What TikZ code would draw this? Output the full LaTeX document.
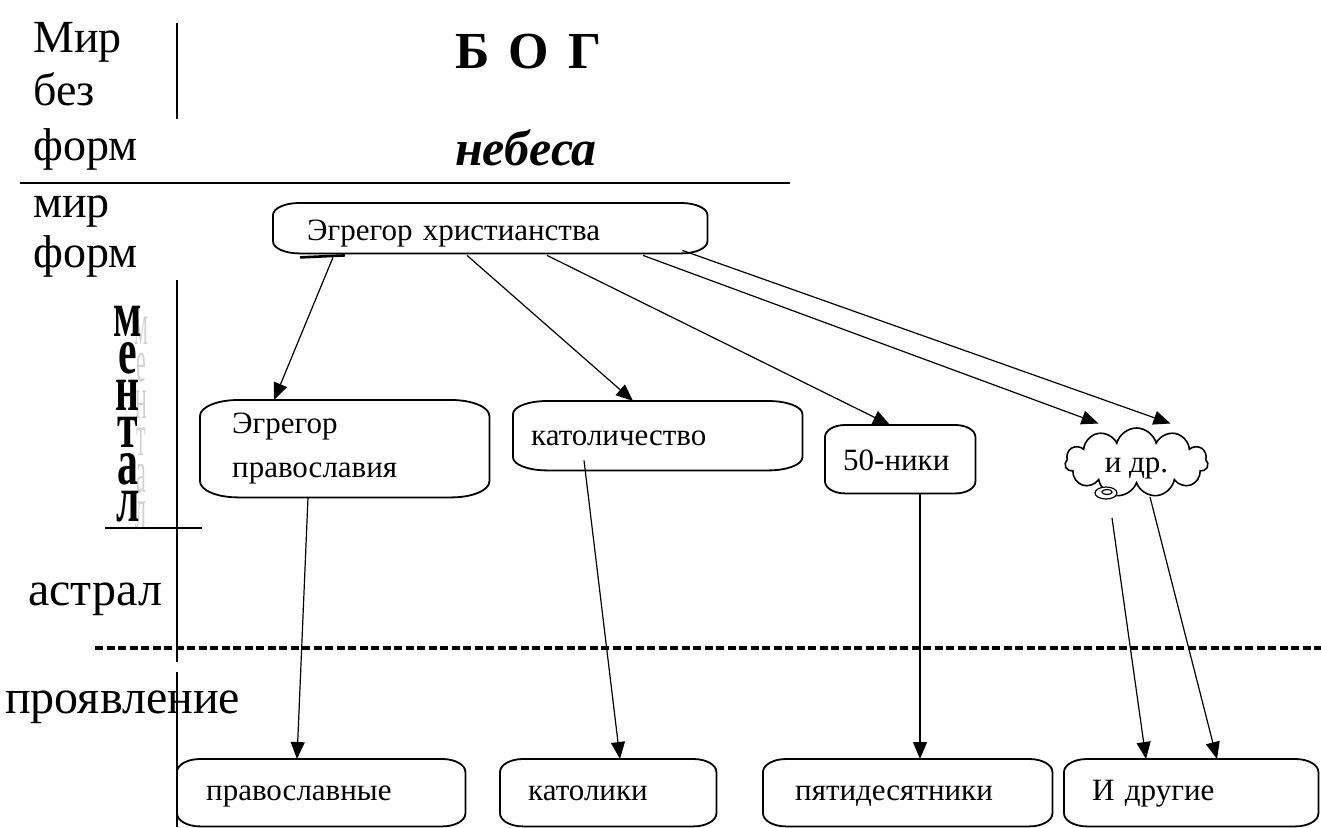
\documentclass[tikz,border=0pt]{standalone}
\usepackage{fontspec}
\setmainfont{Liberation Serif}
\usetikzlibrary{calc,arrows.meta,shapes.symbols}
\newcommand\bigf{\fontsize{46}{50}\selectfont}
\newcommand\smf{\fontsize{31}{44}\selectfont}
\newcommand\eboxpath[3]{%
 \draw[boxline] ([xshift=#2]#1.north west) -- ([xshift=-#2]#1.north east)
  arc[start angle=90,end angle=0,x radius=#2,y radius=#3]
  -- ([yshift=#3]#1.south east)
  arc[start angle=0,end angle=-90,x radius=#2,y radius=#3]
  -- ([xshift=#2]#1.south west)
  arc[start angle=270,end angle=180,x radius=#2,y radius=#3]
  -- ([yshift=-#3]#1.north west)
  arc[start angle=180,end angle=90,x radius=#2,y radius=#3] -- cycle;}
\begin{document}
\begin{tikzpicture}[x=1pt,y=-1pt,
  lbl/.style={anchor=base west, inner sep=0, font=\bigf},
  box/.style={draw=none, inner ysep=0, align=left, font=\smf, anchor=north west},
  boxline/.style={line width=1.8pt},
  conn/.style={line width=1.2pt, -{Triangle[length=17pt,width=14pt]}},
  rule/.style={line width=1.6pt},
  letb/.style={anchor=base, inner sep=0, font=\fontsize{44}{44}\selectfont\bfseries},
  letg/.style={anchor=base, inner sep=0, text=gray!35, font=\fontsize{40}{40}\selectfont}
]
\useasboundingbox (0,0) rectangle (1321,827);

% left labels
\node[lbl] (l1) at (33,52) {Мир};
\node[lbl] (l2) at (33,105) {без};
\node[lbl] (l3) at (33,160) {форм};
\node[lbl] (l4) at (33,217) {мир};
\node[lbl] (l5) at (33,267) {форм};
\node[lbl, font=\fontsize{48}{52}\selectfont] (l6) at (28,605) {астрал};
\node[lbl, font=\fontsize{48}{52}\selectfont] (l7) at (5,713) {проявление};

% title
\node[lbl, font=\fontsize{52}{56}\selectfont\bfseries] (bog) at (455,68) {Б\hspace{0.37em}О\hspace{0.37em}Г};
\node[lbl, font=\fontsize{50}{54}\selectfont\bfseries\itshape] (neb) at (455,165) {небеса};

% vertical "ментал"
\foreach \ch [count=\i from 0] in {м,е,н,т,а,л}{
  \node[letg] (g\i) at (141,344+37*\i) {\scalebox{0.55}[1.5]{\ch}};
}
\foreach \ch [count=\i from 0] in {м,е,н,т,а,л}{
  \node[letb] (m\i) at (128,336+37*\i) {\scalebox{0.95}[1.5]{\ch}};
}

% rules
\draw[rule] (177,23) -- (177,119);
\draw[rule] (20,183) -- (790,183);
\draw[rule] (177,280) -- (177,662);
\draw[rule] (177,672) -- (177,827);
\draw[rule] (105,528) -- (202,528);
\draw[line width=3.2pt, dash pattern=on 8pt off 3.5pt] (95,648) -- (1321,648);

% boxes
\node[box, minimum height=50pt, text width=366pt, inner xsep=34pt, text height=26pt, text depth=2pt] (chr) at (273,203) {Эгрегор христианства};
\eboxpath{chr}{26pt}{12pt}
\draw[line width=2.6pt] ($(chr.south west)+(27,4)$) -- ($(chr.south west)+(72,2)$);

\node[box, minimum height=97pt, text width=225pt, inner xsep=32pt] (orth) at (200,400) {Эгрегор\\православия};
\eboxpath{orth}{38pt}{16pt}
\node[box, minimum height=69pt, text width=253pt, inner xsep=18pt, text height=24pt, text depth=5pt] (cath) at (513,401) {католичество};
\eboxpath{cath}{34pt}{13pt}
\node[box, minimum height=68pt, text width=114pt, inner xsep=18pt, text height=25pt, text depth=3pt] (fifty) at (825,425) {50-ники};
\eboxpath{fifty}{20pt}{12pt}

\node[cloud, draw, line width=1.6pt, cloud puffs=11, cloud ignores aspect, minimum width=143pt, minimum height=69pt, inner sep=0, font=\smf, text height=24pt, text depth=5pt] (cloud) at (1136.5,462.5) {и др.};
\draw[line width=1.2pt, fill=white] (1106,493) ellipse [x radius=11pt, y radius=6pt];
\draw[line width=1.2pt] (1107,492) ellipse [x radius=5pt, y radius=2.5pt];

\tikzset{bbox/.style={box, minimum height=67pt, text height=22pt, text depth=7pt}}
\node[bbox, text width=230pt, inner xsep=29pt] (b1) at (177,759) {православные};
\eboxpath{b1}{23pt}{13pt}
\node[bbox, text width=160pt, inner xsep=28pt] (b2) at (500,759) {католики};
\eboxpath{b2}{23pt}{13pt}
\node[bbox, text width=225pt, inner xsep=32pt] (b3) at (763,759) {пятидесятники};
\eboxpath{b3}{23pt}{13pt}
\node[bbox, text width=198pt, inner xsep=28pt] (b4) at (1064,759) {И другие};
\eboxpath{b4}{23pt}{13pt}

% connectors
\draw[conn] ($(chr.south west)+(60,4)$) -- ($(orth.north west)+(74,0)$);
\draw[conn] ($(chr.south west)+(194,2)$) -- ($(cath.north west)+(120,0)$);
\draw[conn] ($(chr.south west)+(274,2)$) -- ($(fifty.north west)+(65,0)$);
\draw[conn] ($(chr.south west)+(370,2)$) -- ($(cloud.center)+(-38,-39)$);
\draw[conn] ($(chr.south east)+(-25,-3)$) -- ($(cloud.center)+(34,-39)$);

\draw[conn] ($(orth.south west)+(108,0)$) -- ($(b1.north west)+(120,0)$);
\draw[conn] ($(cath.south west)+(71,-10)$) -- ($(b2.north west)+(120,0)$);
\draw[conn] ($(fifty.south west)+(95,0)$) -- ($(b3.north west)+(157,0)$);
\draw[conn] ($(cloud.center)+(-24.5,55.5)$) -- ($(b4.north west)+(82,0)$);
\draw[conn] ($(cloud.center)+(13.5,34.5)$) -- ($(b4.north west)+(153,0)$);
\end{tikzpicture}
\end{document}
